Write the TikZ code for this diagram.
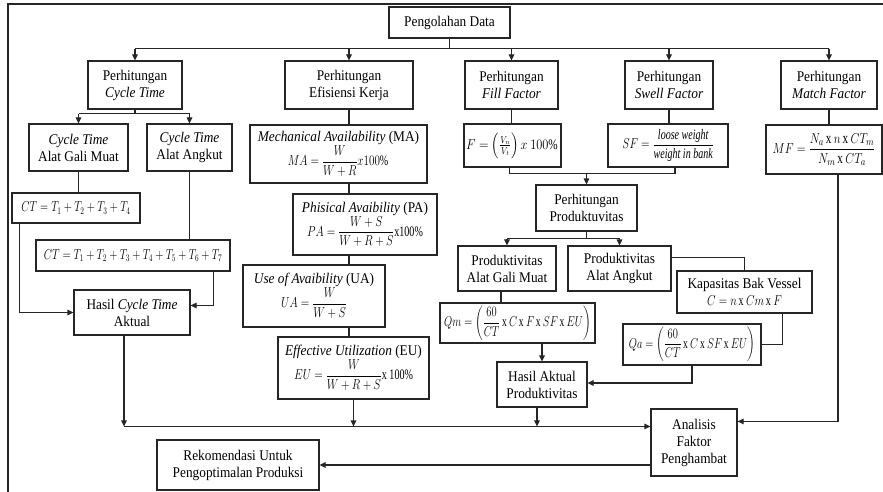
\documentclass[tikz,border=0pt]{standalone}
\usepackage{amsmath}
\usepackage{graphicx}
\usepackage{fontspec}
\setmainfont{Liberation Serif}[FakeStretch=0.9]
\usetikzlibrary{arrows.meta,calc}
\tikzset{
  box/.style={draw=black!85, line width=1.1pt, inner sep=0pt, align=center,
    font=\fontsize{14.8}{17}\selectfont, fill=white},
  conn/.style={draw=black!85, line width=1.1pt},
  arr/.style={conn, -{Triangle[length=6pt,width=5.5pt]}},
}
\newcommand{\bx}[6]{\node[box, minimum width={(#4-#2)*1pt}, minimum height={(#5-#3)*1pt}] (#1) at ({(#2+#4)/2},{(#3+#5)/2}) {#6};}
\newcommand{\tx}{\,\mathrm{x}\,}
\newcommand{\fm}[2][0.77]{{\fontsize{14.5}{16}\selectfont\scalebox{#1}[1]{#2}}}
\begin{document}
\begin{tikzpicture}[x=1pt,y=-1pt]
\useasboundingbox (0,0) rectangle (883,492);
\fill[white] (0,0) rectangle (883,492);
\draw[conn] (883,4) -- (8,4) -- (8,492);
% level 0
\bx{pd}{389}{7}{510}{38}{Pengolahan Data}
% level 1
\bx{ct}{88}{61}{182}{109}{Perhitungan\\\textit{Cycle Time}}
\bx{ek}{285}{61}{413}{109}{Perhitungan\\Efisiensi Kerja}
\bx{ff}{465}{61}{558}{109}{Perhitungan\\\textit{Fill Factor}}
\bx{sw}{625}{61}{713}{109}{Perhitungan\\\textit{Swell Factor}}
\bx{mf}{781}{61}{877}{109}{Perhitungan\\\textit{Match Factor}}
% cycle time column
\bx{gm}{29}{124}{128}{171}{\textit{Cycle Time}\\Alat Gali Muat}
\bx{ang}{147}{124}{232}{171}{\textit{Cycle Time}\\Alat Angkut}
\bx{ct4}{12}{193}{140}{223}{\fm[0.74]{$CT = T_1 + T_2 + T_3 + T_4$}}
\bx{ct7}{36}{240}{230}{271}{\fm[0.74]{$CT = T_1 + T_2 + T_3 + T_4 + T_5 + T_6 + T_7$}}
\bx{hct}{74}{290}{190}{335}{Hasil \textit{Cycle Time}\\Aktual}
% efisiensi column
\bx{ma}{250}{125}{427}{183}{\textit{Mechanical Availability} (MA)\\\fm{$MA = \dfrac{W}{W+R}x100\%$}}
\bx{pa}{293}{194}{437}{255}{\textit{Phisical Avaibility} (PA)\\\fm{$PA = \dfrac{W+S}{W+R+S}$x100\%}}
\bx{ua}{243}{265}{385}{327}{\textit{Use of Avaibility} (UA)\\\fm{$UA = \dfrac{W}{W+S}$}}
\bx{eu}{278}{337}{429}{399}{\textit{Effective Utilization} (EU)\\\fm{$EU = \dfrac{W}{W+R+S}$x 100\%}}
% fill / swell
\bx{fbox}{464}{124}{561}{167}{\fm[0.86]{$F = \left(\frac{V_n}{V_t}\right) x\ 100\%$}}
\bx{sfbox}{608}{124}{728}{167}{\fm{$SF = \dfrac{\textit{loose weight}}{\textit{weight in bank}}$}}
\bx{pp}{536}{185}{637}{231}{Perhitungan\\Produktuvitas}
\bx{pgm}{458}{246}{556}{291}{Produktivitas\\Alat Gali Muat}
\bx{pang}{568}{246}{671}{291}{Produktivitas\\Alat Angkut}
\bx{kap}{677}{271}{812}{313}{Kapasitas Bak Vessel\\\fm{$C = n\tx Cm\tx F$}}
\bx{qm}{440}{303}{595}{343}{\fm[0.73]{$Qm = \left(\dfrac{60}{CT}\tx C\tx F\tx SF\tx EU\right)$}}
\bx{qa}{623}{324}{761}{365}{\fm[0.73]{$Qa = \left(\dfrac{60}{CT}\tx C\tx SF\tx EU\right)$}}
\bx{hap}{497}{362}{587}{407}{Hasil Aktual\\Produktivitas}
% match factor
\bx{mfbox}{766}{125}{882}{174}{{\fontsize{15.5}{17}\selectfont\scalebox{0.8}[1]{$MF = \dfrac{N_a\tx n\tx CT_m}{N_m\tx CT_a}$}}}
% bottom
\bx{an}{651}{409}{737}{476}{Analisis\\Faktor\\Penghambat}
\bx{rk}{157}{440}{319}{490}{Rekomendasi Untuk\\Pengoptimalan Produksi}

% top bus
\path (pd.south) ++(0,10) coordinate (b0);
\draw[conn] (pd.south) -- (b0);
\draw[conn] (ct.north |- b0) -- (mf.north |- b0);
\foreach \n in {ct,ek,ff,sw,mf} \draw[arr] (\n.north |- b0) -- (\n.north);
% cycle time
\path (ct.south) ++(0,4) coordinate (b1);
\draw[conn] (ct.south) -- (b1);
\draw[conn] (gm.north |- b1) -- (ang.north |- b1);
\draw[arr] (gm.north |- b1) -- (gm.north);
\draw[arr] (ang.north |- b1) -- (ang.north);
\draw[conn] (gm.south) -- (gm.south |- ct4.north);
\draw[conn] (ang.south) -- (ang.south |- ct7.north);
\draw[arr] ($(ct4.south west)+(8,0)$) |- (hct.west);
\draw[arr] ($(ct7.south east)+(-17,0)$) |- ($(hct.east)+(0,-7)$);
% efisiensi chain
\draw[conn] (ek.south) -- (ek.south |- ma.north);
\draw[conn] (ek.south |- ma.south) -- (ek.south |- pa.north);
\draw[conn] (ek.south |- pa.south) -- (ek.south |- ua.north);
\draw[conn] (ek.south |- ua.south) -- (ek.south |- eu.north);
% fill / swell
\draw[conn] (ff.south) -- (ff.south |- fbox.north);
\draw[conn] (sw.south) -- (sw.south |- sfbox.north);
\path (fbox.south) ++(-3,6) coordinate (j1);
\path (sfbox.south) ++(7,0) coordinate (j1b);
\draw[conn] (j1 |- fbox.south) -- (j1) -| (j1b);
\draw[arr] (pp.north |- j1) -- (pp.north);
\path (pp.south) ++(0,7) coordinate (j2);
\draw[conn] (pp.south) -- (j2);
\draw[conn] (pgm.north |- j2) -- (pang.north |- j2);
\draw[arr] (pgm.north |- j2) -- (pgm.north);
\draw[arr] (pang.north |- j2) -- (pang.north);
\path (pgm.south) ++(-6,0) coordinate (g1);
\draw[conn] (g1) -- (g1 |- qm.north);
\draw[conn] ($(pang.north east)+(0,12)$) -| (kap.north);
\draw[conn] ($(kap.south east)+(-30,0)$) |- (qa.east);
\draw[arr] (hap.north |- qm.south) -- (hap.north);
\draw[arr] (qa.south) |- ($(hap.east)+(0,-1.5)$);
% match
\draw[conn] (mf.south) -- (mf.south |- mfbox.north);
\path (an.north east) ++(0,13) coordinate (a1);
\path (mfbox.south) ++(14,0) coordinate (m1);
\draw[arr] (m1) |- (a1);
% bottom bus
\path (an.north west) ++(0,18) coordinate (b2);
\path (hct.south) ++(-8,0) coordinate (h1);
\path (hap.south) ++(-5,0) coordinate (h3);
\draw[arr] (h1) -- (h1 |- b2);
\draw[arr] (eu.south) -- (eu.south |- b2);
\draw[arr] (h3) -- (h3 |- b2);
\draw[arr] (h1 |- b2) -- (b2);
\draw[arr] (an.west |- rk.east) -- (rk.east);
\end{tikzpicture}
\end{document}
